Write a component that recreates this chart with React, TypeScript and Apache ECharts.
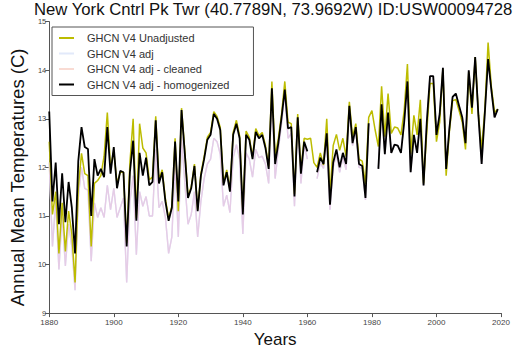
import React, { useEffect, useRef } from "react";
import * as echarts from "echarts";

const startYear = 1880;

const unadjusted: (number | null)[] = [
  12.53, 11.03, 11.5, 10.23, 11.27, 10.27, 11.1, 10.63, 9.63, 11.57,
  12.29, 11.87, 11.83, 10.37, 11.67, 11.73, 11.83, 12.23, 13.13, 12.0,
  12.33, 11.67, 11.9, 11.9, 10.45, 12.1, 13.0, 10.95, 12.9, 12.4,
  12.3, 11.75, 11.8, 13.05, 11.75, 11.95, 11.35, 10.95, 11.2, 12.6,
  11.1, 13.22, 12.35, 11.4, 11.6, 12.07, 11.13, 11.87, 12.22, 12.62,
  12.72, 13.15, 13.05, 12.82, 11.68, 11.95, 11.55, 12.72, 12.97, 12.65,
  11.08, 12.75, 12.62, 12.22, 12.8, 12.65, 12.72, 12.45, 12.02, 13.77,
  12.23, 12.6, 13.1, 13.77, 12.93, 12.9, 11.45, 13.1, 11.95, 12.6,
  12.58, 12.6, 12.1, 12.0, 12.3, 12.05, 13.0, 11.45, 12.45, 12.68,
  12.35, 12.6, 12.22, 13.35, 12.63, 12.9, 12.17, 12.13, 11.65, 13.03,
  13.17, 12.77, 12.43, 13.67, 12.63, 13.52, 12.7, 12.83, 12.81, 12.67,
  13.17, 14.13, 12.27, 13.07, 12.67, 13.39, 11.67, 12.73, 13.73, 13.73,
  12.53, 12.93, 14.03, 11.83, 12.73, 13.37, 13.4, 13.17, 12.93, 12.37,
  13.97, 13.1, 14.27, 13.1, 12.37, 13.2, 14.57, 13.67, 13.13, 13.2,
];

const homogenized: (number | null)[] = [
  13.15, 11.3, 12.1, 10.83, 11.88, 10.87, 11.7, 11.17, 10.23, 12.13,
  12.83, 12.42, 12.38, 11.0, 12.17, 11.83, 11.97, 11.8, 12.83, 11.87,
  12.42, 11.57, 11.93, 11.9, 10.37, 11.9, 12.55, 10.9, 12.3, 11.83,
  12.2, 11.63, 11.7, 12.97, 11.67, 11.9, 11.3, 10.9, 11.17, 12.53,
  11.3, 13.18, 12.3, 11.37, 11.57, 12.03, 11.1, 11.83, 12.17, 12.57,
  12.67, 13.1, 13.0, 12.77, 11.63, 11.9, 11.5, 12.67, 12.9, 12.6,
  11.03, 12.67, 12.57, 12.17, 12.73, 12.6, 12.67, 12.4, 11.97, 13.63,
  12.07, 12.5, 13.03, 13.6, 12.8, 12.83, 11.4, 13.03, 11.87, 12.53,
  12.33, null, null, 11.9, 12.2, 12.07, 12.7, 11.23, 12.1, 12.37,
  12.0, 12.3, 12.07, 13.27, 12.5, 12.83, 12.07, 12.03, 11.37, 12.91,
  null, null, 11.97, 13.3, 12.27, 13.13, 12.3, 12.47, 12.45, 12.3,
  12.93, 13.77, 11.9, 12.67, 12.3, 13.0, 11.63, 12.93, 13.88, 13.88,
  12.67, 13.1, 14.05, 11.97, 12.8, 13.45, 13.52, 13.27, 13.03, 12.5,
  14.0, 13.23, 14.27, 13.07, 12.07, 13.13, 14.23, 13.6, 13.03, 13.2,
];

const cleaned: (number | null)[] = [
  12.1, 10.37, 11.3, 9.9, 11.03, 9.97, 10.83, 10.37, 9.47, 11.37,
  12.0, 11.57, 11.53, 10.07, 11.27, 10.97, 11.17, 10.97, 11.63, 11.13,
  11.57, 10.97, 11.17, 11.37, 9.63, 11.3, 11.83, 10.2, 11.5, 11.2,
  11.4, 11.0, 11.0, 12.37, 11.17, 11.3, 10.97, 10.23, 10.57, 12.1,
  10.57, 12.63, 11.7, 10.83, 11.03, 11.5, 10.57, 11.3, 11.77, 12.07,
  12.17, 12.6, 12.53, 12.27, 11.2, 11.43, 11.07, 12.2, 12.47, 12.17,
  10.63, 12.3, 12.17, 11.8, 12.37, 12.2, 12.23, 12.07, 11.67, 13.5,
  11.77, 12.37, 12.9, 13.55, 12.6, 12.7, 11.2, 12.97, 11.67, 12.47,
  12.17, null, null, 11.77, 12.1, 11.98, 12.6, 11.13, 12.0, 12.27,
  11.9, 12.2, 11.95, 13.2, 12.45, 12.78, 12.0, 11.98, 11.33, 12.88,
  null, null, 11.97, 13.3, 12.27, 13.13, 12.3, 12.47, 12.45, 12.3,
  12.93, 13.77, 11.9, 12.67, 12.3, 13.0, 11.63, 12.93, 13.88, 13.88,
  12.67, 13.1, 14.05, 11.97, 12.8, 13.45, 13.52, 13.27, 13.03, 12.5,
  14.0, 13.23, 14.27, 13.07, 12.07, 13.13, 14.23, 13.6, 13.03, 13.2,
];

const adjusted: (number | null)[] = cleaned.slice();

const seriesNames = [
  "GHCN V4 Unadjusted",
  "GHCN V4 adj",
  "GHCN V4 adj - cleaned",
  "GHCN V4 adj - homogenized",
];

const toPairs = (vals: (number | null)[]) =>
  vals.map((v, i) => [startYear + i, v]);

const FONT = "'Liberation Sans', Arial, sans-serif";

// thin horizontal bar centred in a 15x12 box (tiny corner specks fix the bounding box)
const LINE_ICON =
  "path://M0,0 L0.01,0 L0,0.01 Z M14.99,12 L15,12 L15,11.99 Z M0,5.1 L15,5.1 L15,6.9 L0,6.9 Z";

export default function App() {
  const ref = useRef<HTMLDivElement>(null);
  useEffect(() => {
    if (!ref.current) return;
    const chart = echarts.init(ref.current, undefined, { renderer: "svg" });
    const lineColors = ["#bcbc00", "#dfe6f7", "#e6cce6", "#000000"];
    const legendColors = ["#bcbc00", "#e2e9fa", "#f9dbd3", "#000000"];
    const datasets = [unadjusted, adjusted, cleaned, homogenized];
    const widths = [1.5, 1.4, 1.4, 1.8];
    const zs = [3, 1, 2, 4];
    chart.setOption({
      animation: false,
      title: {
        text: "New York Cntrl Pk Twr (40.7789N, 73.9692W) ID:USW00094728",
        left: 29,
        top: 0,
        padding: [1, 5, 0, 5],
        textStyle: {
          fontFamily: FONT,
          fontSize: 16.7,
          lineHeight: 16,
          fontWeight: "normal",
          color: "#111",
        },
      },
      legend: {
        orient: "vertical",
        left: 52,
        top: 27,
        padding: [5, 24, 5, 7],
        borderColor: "#555",
        borderWidth: 1,
        itemWidth: 15,
        itemHeight: 12,
        itemGap: 3.5,
        textStyle: { fontFamily: FONT, fontSize: 11, color: "#333", padding: [0, 0, 0, 8] },
        data: seriesNames.map((n, i) => ({
          name: n,
          icon: LINE_ICON,
          itemStyle: { color: legendColors[i], borderColor: legendColors[i], borderWidth: 0 },
          lineStyle: { color: legendColors[i], width: 0 },
        })),
      },
      grid: { left: 46, right: 24, top: 21.7, bottom: 31.3, containLabel: false },
      xAxis: {
        type: "value",
        min: 1880,
        max: 2020,
        interval: 20,
        name: "Years",
        nameLocation: "middle",
        nameGap: 13,
        nameTextStyle: { fontFamily: FONT, fontSize: 17, color: "#111" },
        axisLine: { lineStyle: { color: "#555", width: 1 } },
        axisTick: { show: true, length: 4, lineStyle: { color: "#555" } },
        axisLabel: {
          fontFamily: FONT,
          fontSize: 8,
          color: "#444",
          margin: 5,
          formatter: (v: number) => String(v),
        },
        splitLine: { show: false },
      },
      yAxis: {
        type: "value",
        min: 9,
        max: 15,
        interval: 1,
        name: "Annual Mean Temperatures (C)",
        nameLocation: "middle",
        nameRotate: 90,
        nameGap: 19,
        nameTextStyle: { fontFamily: FONT, fontSize: 18.5, color: "#111", padding: [0, 20, 0, 0] },
        axisLine: { show: true, lineStyle: { color: "#555", width: 1 } },
        axisTick: { show: true, length: 4, lineStyle: { color: "#555" } },
        axisLabel: { fontFamily: FONT, fontSize: 7.5, color: "#444", margin: 3 },
        splitLine: { show: false },
      },
      series: datasets.map((d, i) => ({
        name: seriesNames[i],
        type: "line",
        data: toPairs(d),
        showSymbol: false,
        symbol: "none",
        connectNulls: false,
        z: zs[i],
        color: legendColors[i],
        itemStyle: { color: legendColors[i] },
        lineStyle: { color: lineColors[i], width: widths[i] },
      })),
    });
    return () => chart.dispose();
  }, []);
  return (
    <div
      ref={ref}
      style={{ position: "fixed", left: 0, top: 0, width: 525, height: 353, background: "#fff" }}
    />
  );
}
